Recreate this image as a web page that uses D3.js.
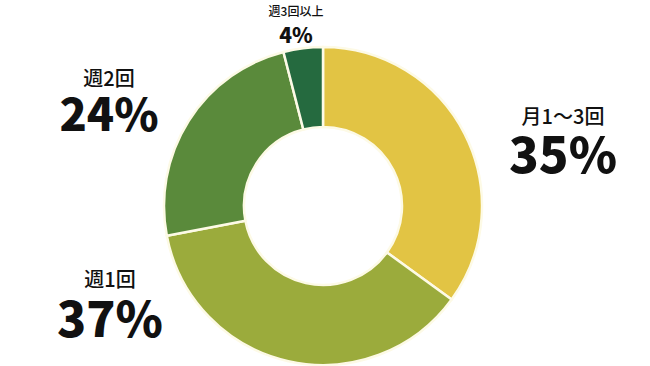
<!DOCTYPE html>
<html>
<head>
<meta charset="utf-8">
<script src="https://cdn.jsdelivr.net/npm/d3@7"></script>
<style>
  body { margin: 0; background: #fff; }
  text { font-family: "Noto Sans CJK JP", "Noto Sans", sans-serif; fill: #111; }
</style>
</head>
<body>
<script>
var width = 650;
var height = 366;

// data, clockwise from 12 o'clock
var categories = ['月1～3回', '週1回', '週2回', '週3回以上'];
var values = [35, 37, 24, 4];
var colors = ['#e2c444', '#9bab3c', '#5a8a3b', '#256a3f'];

var cx = 323, cy = 206;
var outerR = 159, innerR = 79;

var svg = d3.select('body').append('svg')
  .attr('width', width)
  .attr('height', height);

var pie = d3.pie().sort(null).value(function(d){ return d; });
var arc = d3.arc().innerRadius(innerR).outerRadius(outerR);

var g = svg.append('g').attr('transform', 'translate(' + cx + ',' + cy + ')');

g.selectAll('path')
  .data(pie(values))
  .enter().append('path')
  .attr('d', arc)
  .attr('fill', function(d, i){ return colors[i]; })
  .attr('stroke', '#fdfae6')
  .attr('stroke-width', 2.5);

// label positions (name baseline, percent baseline, sizes)
var labels = [
  { x: 563, ny: 124, py: 173, ns: 20, ps: 49 },
  { x: 110, ny: 287, py: 337, ns: 20, ps: 48 },
  { x: 109, ny: 86,  py: 131, ns: 20, ps: 45 },
  { x: 296, ny: 16,  py: 43,  ns: 12, ps: 21 }
];

// one text per label, name and percent as two lines
var lab = svg.selectAll('text.lab')
  .data(categories)
  .enter().append('text')
  .attr('class', 'lab')
  .attr('text-anchor', 'middle');

lab.append('tspan')
  .attr('x', function(d, i){ return labels[i].x; })
  .attr('y', function(d, i){ return labels[i].ny; })
  .attr('font-size', function(d, i){ return labels[i].ns; })
  .attr('font-weight', 500)
  .text(function(d){ return d; });

lab.append('tspan')
  .attr('x', function(d, i){ return labels[i].x; })
  .attr('y', function(d, i){ return labels[i].py; })
  .attr('font-size', function(d, i){ return labels[i].ps; })
  .attr('font-weight', 900)
  .text(function(d, i){ return values[i] + '%'; });
</script>
</body>
</html>
